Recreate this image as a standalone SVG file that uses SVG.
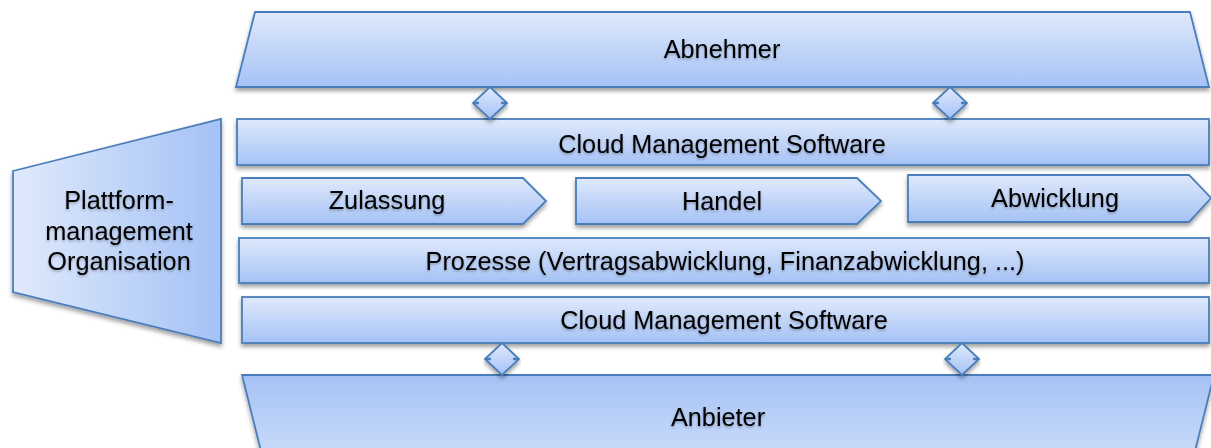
<svg xmlns="http://www.w3.org/2000/svg" width="1211" height="448" viewBox="0 0 1211 448">
  <defs>
    <linearGradient id="gv" x1="0" y1="0" x2="0" y2="1">
      <stop offset="0" stop-color="#dfe9fc"/>
      <stop offset="1" stop-color="#a5c2f5"/>
    </linearGradient>
    <linearGradient id="gvr" x1="0" y1="0" x2="0" y2="1">
      <stop offset="0" stop-color="#a5c2f5"/>
      <stop offset="1" stop-color="#dfe9fc"/>
    </linearGradient>
    <linearGradient id="gh" x1="0" y1="0" x2="1" y2="0">
      <stop offset="0" stop-color="#dfe9fc"/>
      <stop offset="1" stop-color="#a5c2f5"/>
    </linearGradient>
    <filter id="sh" x="-5%" y="-20%" width="110%" height="160%">
      <feDropShadow dx="0" dy="3" stdDeviation="2" flood-color="#000" flood-opacity="0.38"/>
    </filter>
    <filter id="tsh" x="-5%" y="-20%" width="110%" height="160%">
      <feDropShadow dx="0" dy="1.5" stdDeviation="1.2" flood-color="#000" flood-opacity="0.3"/>
    </filter>
  </defs>
  <style>
    .box { stroke: #4a7ebb; stroke-width: 1.8; stroke-linejoin: miter; filter: url(#sh); }
    .v { fill: url(#gv); }
    .vr { fill: url(#gvr); }
    .h { fill: url(#gh); }
    .lbl { font-family: "Liberation Sans", Arial, sans-serif; font-size: 25.3px; fill: #000; text-anchor: middle; filter: url(#tsh); }
    .tick { stroke: #4a7ebb; stroke-width: 2.6; fill: none; }
  </style>

  <g id="abnehmer">
    <polygon class="box v" points="255,12 1190,12 1209,87 236,87"/>
    <text class="lbl" x="722" y="58">Abnehmer</text>
  </g>

  <g id="plattform">
    <polygon class="box h" points="13,171 221,119 221,343 13,292"/>
    <text class="lbl" x="119" y="209">Plattform-</text>
    <text class="lbl" x="119" y="240">management</text>
    <text class="lbl" x="119" y="270">Organisation</text>
  </g>

  <g id="cms-oben">
    <rect class="box v" x="237" y="119" width="972" height="46"/>
    <text class="lbl" x="722" y="153">Cloud Management Software</text>
  </g>

  <g id="zulassung">
    <polygon class="box v" points="242,178 523,178 546,201 523,224 242,224"/>
    <text class="lbl" x="387" y="209">Zulassung</text>
  </g>

  <g id="handel">
    <polygon class="box v" points="576,178 857,178 881,201 857,224 576,224"/>
    <text class="lbl" x="722" y="210">Handel</text>
  </g>

  <g id="abwicklung">
    <polygon class="box v" points="908,175 1189,175 1211,198 1189,222 908,222"/>
    <text class="lbl" x="1055" y="207">Abwicklung</text>
  </g>

  <g id="prozesse">
    <rect class="box v" x="239" y="238" width="970" height="45"/>
    <text class="lbl" x="725" y="270">Prozesse (Vertragsabwicklung, Finanzabwicklung, ...)</text>
  </g>

  <g id="cms-unten">
    <rect class="box v" x="242" y="297" width="967" height="46"/>
    <text class="lbl" x="724" y="329">Cloud Management Software</text>
  </g>

  <g id="anbieter">
    <polygon class="box vr" points="242,375 1214,375 1182,503 274,503"/>
    <text class="lbl" x="718" y="426">Anbieter</text>
  </g>

  <g id="connectors">
    <g id="c1">
      <polygon class="box v" points="490,87 507,103 490,119 473,103"/>
      <path class="tick" d="M473,103 h6 M507,103 h-6"/>
    </g>
    <g id="c2">
      <polygon class="box v" points="950,87 967,103 950,119 933,103"/>
      <path class="tick" d="M933,103 h6 M967,103 h-6"/>
    </g>
    <g id="c3">
      <polygon class="box v" points="502,343 519,359 502,375 485,359"/>
      <path class="tick" d="M485,359 h6 M519,359 h-6"/>
    </g>
    <g id="c4">
      <polygon class="box v" points="962,343 979,359 962,375 945,359"/>
      <path class="tick" d="M945,359 h6 M979,359 h-6"/>
    </g>
  </g>
</svg>
